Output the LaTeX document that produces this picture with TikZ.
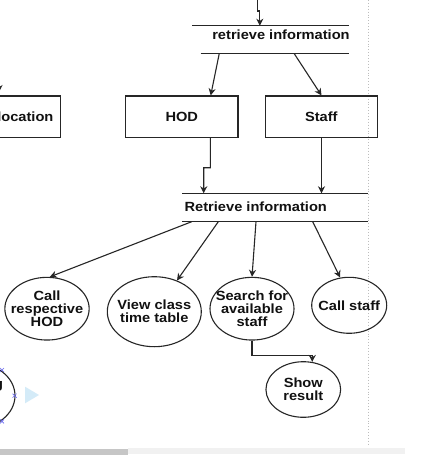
\documentclass[tikz,border=0pt]{standalone}
\usepackage{fontspec}
\setmainfont{Liberation Sans}[FakeStretch=1.1]
\usetikzlibrary{arrows.meta,shapes.geometric,calc}
\definecolor{stroke}{HTML}{262626}
\definecolor{txt}{HTML}{111111}
\definecolor{guide}{HTML}{BDBDBD}
\definecolor{markblue}{HTML}{6A6AF0}
\definecolor{paleblue}{HTML}{D4EBF8}
\definecolor{thumb}{HTML}{C6C6C6}
\definecolor{track}{HTML}{F1F1F1}
\begin{document}
\begin{tikzpicture}[x=1pt,y=-1pt,
  every node/.style={font=\fontsize{13.3}{13}\selectfont\bfseries, text=txt, inner sep=0pt},
  conn/.style={draw=stroke, line width=1.1pt, -{Stealth[length=7pt,width=7pt,inset=2.2pt]}},
  rbox/.style={draw=stroke, line width=1.1pt, rectangle, minimum width=112.3pt, minimum height=41.3pt},
  oval/.style={draw=stroke, line width=1.1pt, ellipse},
  storeline/.style={draw=stroke, line width=1.1pt},
  xmark/.style={draw=markblue, line width=0.6pt}]
\useasboundingbox (0,0) rectangle (422,455);
\clip (0,0) rectangle (422,455);
\fill[white] (0,0) rectangle (422,455);

% guide line
\draw[guide, dotted, line width=0.9pt] (368.3,0) -- (368.3,445);

% top data store
\coordinate (s1tl) at (192,25.7);
\coordinate (s1tr) at (349,25.7);
\coordinate (s1bl) at (200.7,53.3);
\coordinate (s1br) at (349,53.3);
\draw[storeline] (s1tl) -- (s1tr);
\draw[storeline] (s1bl) -- (s1br);
\node[anchor=base] (ri1) at (281,39.5) {retrieve information};

% incoming arrow
\coordinate (in0) at (257.2,0);
\coordinate (in1) at (257.2,11);
\coordinate (in2) at (259.8,11);
\coordinate (ri1in) at (259.8,25.7);
\draw[conn] (in0) -- (in1) -- (in2) -- (ri1in);

% boxes
\node[rbox] (hod) at (181.85,116.65) {};
\node[anchor=base] (hodt) at (181.8,121.7) {HOD};
\node[rbox] (staff) at (321.5,116.65) {};
\node[anchor=base] (stafft) at (321.3,121.7) {Staff};
\node[rbox, anchor=east] (locbox) at (61.3,116.65) {};
\node[anchor=base east] (loct) at (53.6,121.7) {location};
\coordinate (locin) at (-1,60);
\coordinate (locend) at (-1,92);
\draw[conn] (locin) -- (locend);

% store 1 -> boxes
\coordinate (s1a) at (219.3,53.3);
\coordinate (s1b) at (294,53.3);
\draw[conn] (s1a) -- ($(hod.north)+(28.85,0)$);
\draw[conn] (s1b) -- (staff.north);

% lower data store
\coordinate (s2tl) at (182.3,193.3);
\coordinate (s2tr) at (368.3,193.3);
\coordinate (s2bl) at (182.3,221.7);
\coordinate (s2br) at (368.3,221.7);
\draw[storeline] (s2tl) -- (s2tr);
\draw[storeline] (s2bl) -- (s2br);
\node[anchor=base] (ri2) at (255.8,211) {Retrieve information};

% boxes -> lower store
\coordinate (h1) at ($(hod.south)+(28.5,0)$);
\coordinate (h2) at (210.3,167.7);
\coordinate (h3) at (203.7,167.7);
\coordinate (h4) at (203.7,193.3);
\draw[conn] (h1) -- (h2) -- (h3) -- (h4);
\coordinate (st4) at (321.5,193.3);
\draw[conn] (staff.south) -- (st4);

% ellipses
\node[oval, minimum width=84.3pt, minimum height=62.7pt,
  label={[align=center]center:{Call\\respective\\HOD}}] (callhod) at (47,308.7) {};
\node[oval, minimum width=94pt, minimum height=70pt,
  label={[align=center]center:{View class\\time table}}] (view) at (154.3,311.7) {};
\node[oval, minimum width=84pt, minimum height=62.7pt,
  label={[align=center]center:{Search for\\available\\staff}}] (search) at (252,308.7) {};
\node[oval, minimum width=75pt, minimum height=56pt,
  label={[align=center]center:{Call staff}}] (callstaff) at (349.2,305.3) {};
\node[oval, minimum width=74.7pt, minimum height=55.6pt,
  label={[align=center]center:{Show\\result}}] (show) at (303.3,389.5) {};

% store 2 -> ellipses
\coordinate (s2a) at (191.7,221.7);
\coordinate (s2b) at (218.3,221.7);
\coordinate (s2c) at (256,221.7);
\coordinate (s2d) at (312.7,221.7);
\draw[conn] (s2a) -- (callhod.85);
\draw[conn] (s2b) -- (view.54);
\draw[conn] (s2c) -- (search.north);
\draw[conn] (s2d) -- (callstaff.108);

% search -> show
\draw[conn] (search.south) -- ++(0,15) -| (show.72);

% left partial ellipse and editor marks
\node[oval, minimum width=82pt, minimum height=66pt] (lefte) at (-26,395.7) {};
\node[anchor=base east] (leftt) at (3.3,388) {g};
\foreach \p in {(2,370),(14.6,395.7),(2,421.4)}{
  \draw[xmark] \p ++(-2,-2) -- ++(4,4);
  \draw[xmark] \p ++(-2,2) -- ++(4,-4);
}
\fill[paleblue] (25,386.7) -- (39,395) -- (25,403.3) -- cycle;

% scrollbar
\fill[track] (128,447.5) rectangle (405,453.5);
\fill[thumb] (0,449) rectangle (128,455);
\end{tikzpicture}
\end{document}
